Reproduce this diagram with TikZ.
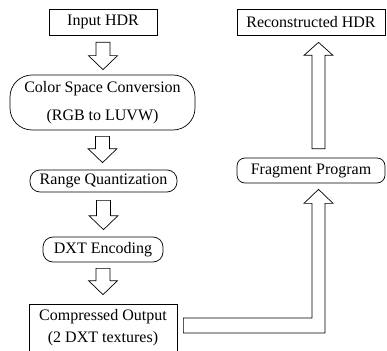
\documentclass[tikz,border=0pt]{standalone}
\usepackage{fontspec}
\setmainfont{Liberation Serif}
\usetikzlibrary{calc}
\tikzset{
  box/.style={draw, line width=0.7pt, inner sep=0pt, align=center,
    font=\fontsize{16}{22}\selectfont},
  rbox/.style={box, rounded corners=#1},
  blockarrow/.style={draw, line width=0.7pt, fill=white, line join=miter},
}
\newcommand\blockdown[4]{%
  \draw[blockarrow] let \p1=($(#1.south)+(0,#3)$), \p2=($(#2.north)+(0,-#4)$) in
    (\x1-7pt,\y1) -- (\x1+7pt,\y1) -- (\x1+7pt,\y2+14pt) -- (\x1+14.5pt,\y2+14pt)
    -- (\x1,\y2) -- (\x1-14.5pt,\y2+14pt) -- (\x1-7pt,\y2+14pt) -- cycle;}
\begin{document}
\begin{tikzpicture}[x=1pt,y=-1pt]
\useasboundingbox (0,0) rectangle (387,350);
\node[box, minimum width=108pt, minimum height=26pt] (inhdr) at (103,22) {Input HDR};
\node[rbox=22pt, minimum width=185pt, minimum height=55pt,
  font=\fontsize{16}{28}\selectfont] (csc) at (102.5,102.5)
  {Color Space Conversion\\(RGB to LUVW)};
\node[rbox=10pt, minimum width=147pt, minimum height=22pt] (rq) at (103.5,181) {Range Quantization};
\node[rbox=10pt, minimum width=120pt, minimum height=25pt] (dxt) at (103,249.5) {DXT Encoding};
\node[box, minimum width=148pt, minimum height=48pt] (co) at (103,328)
  {Compressed Output\\(2 DXT textures)};
\node[box, minimum width=148pt, minimum height=26pt] (rec) at (311,22) {Reconstructed HDR};
\node[rbox=8pt, minimum width=148pt, minimum height=25pt] (fp) at (311,170.5) {Fragment Program};

\blockdown{inhdr}{csc}{7}{5}
\blockdown{csc}{rq}{6}{7}
\blockdown{rq}{dxt}{8}{7}
\blockdown{dxt}{co}{6}{9}

% up arrow fragment program -> reconstructed HDR
\draw[blockarrow] let \p1=($(fp.north)+(7.5,-9)$), \p2=($(rec.south)+(7.5,7)$) in
  (\x1-6.5pt,\y1) -- (\x1-6.5pt,\y2-13pt) -- (\x1-14.5pt,\y2-13pt) -- (\x1,\y2)
  -- (\x1+14.5pt,\y2-13pt) -- (\x1+6.5pt,\y2-13pt) -- (\x1+6.5pt,\y1) -- cycle;

% bent arrow compressed output -> fragment program
\draw[blockarrow] let \p1=($(co.east)+(6,-2.5)$), \p2=($(fp.south)+(7.5,6)$) in
  (\x1,\y1+7.5pt) -- (\x2-6.5pt,\y1+7.5pt) -- (\x2-6.5pt,\y2-14pt) -- (\x2-14.5pt,\y2-14pt)
  -- (\x2,\y2) -- (\x2+14.5pt,\y2-14pt) -- (\x2+6.5pt,\y2-14pt) -- (\x2+6.5pt,\y1-7.5pt)
  -- (\x1,\y1-7.5pt) -- cycle;
\end{tikzpicture}
\end{document}
